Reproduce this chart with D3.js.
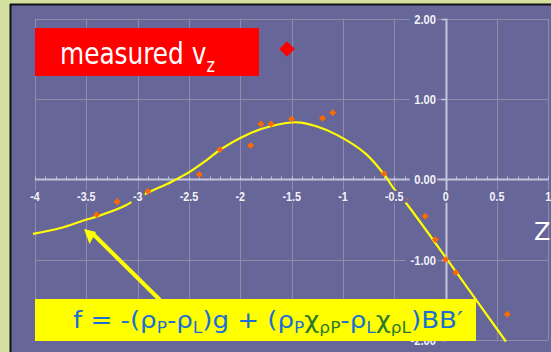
<!DOCTYPE html>
<html>
<head>
<meta charset="utf-8">
<script src="https://cdn.jsdelivr.net/npm/d3@7"></script>
<style>
  html, body { margin: 0; padding: 0; background: #d3e0a0; }
  svg { display: block; }
</style>
</head>
<body>
<div id="chart"></div>
<script>
// measured v_z points
const scatterX = [-3.4, -3.2, -2.9, -2.4, -2.2, -1.9, -1.8, -1.7, -1.5, -1.2, -1.1, -0.6, -0.4, -0.2, -0.1, 0.0, 0.1, 0.6];
const scatterY = [-0.44, -0.28, -0.15, 0.06, 0.37, 0.42, 0.69, 0.69, 0.75, 0.76, 0.83, 0.07, -0.25, -0.46, -0.75, -1.0, -1.16, -1.68];

// model curve f (traced)
const curveX = [-4.02, -3.76, -3.52, -3.4, -3.14, -2.945, -2.668, -2.49, -2.327, -2.2, -1.945, -1.705, -1.447, -1.26, -1.055, -0.78, -0.593, -0.508, -0.395, 0.1, 0.587];
const curveY = [-0.68, -0.61, -0.51, -0.465, -0.34, -0.195, -0.03, 0.095, 0.24, 0.365, 0.55, 0.66, 0.71, 0.66, 0.55, 0.32, 0.05, -0.11, -0.28, -1.15, -2.02];

const xTickValues = [-4, -3.5, -3, -2.5, -2, -1.5, -1, -0.5, 0, 0.5, 1];
const xTickLabels = ['-4', '-3.5', '-3', '-2.5', '-2', '-1.5', '-1', '-0.5', '0', '0.5', '1'];
const yTickValues = [2, 1, 0, -1, -2];
const yTickLabels = ['2.00', '1.00', '0.00', '-1.00', '-2.00'];

const W = 551, H = 352;
const bg = '#666699';
const gridCol = '#8d8dab';
const axisCol = '#c4c4dc';

const svg = d3.select('#chart').append('svg').attr('width', W).attr('height', H);

// frame
svg.append('rect').attr('x', 0).attr('y', 0).attr('width', W).attr('height', H).attr('fill', '#d3e0a0');
svg.append('rect').attr('x', 11).attr('y', 5).attr('width', W).attr('height', H).attr('fill', bg);
svg.append('line').attr('x1', 10.5).attr('x2', 10.5).attr('y1', 4).attr('y2', H).attr('stroke', '#111').attr('stroke-width', 2);
svg.append('line').attr('x1', 10).attr('x2', W).attr('y1', 4.5).attr('y2', 4.5).attr('stroke', '#111').attr('stroke-width', 2);

const x = d3.scaleLinear().domain([-4, 1]).range([35, 548.3]);
const y = d3.scaleLinear().domain([-2, 2]).range([339.9, 18.7]);

const g = svg.append('g');

// grid
g.selectAll('.vg').data(xTickValues).join('line')
  .attr('x1', d => Math.round(x(d)) + 0.5).attr('x2', d => Math.round(x(d)) + 0.5)
  .attr('y1', y(2)).attr('y2', y(-2))
  .attr('stroke', gridCol).attr('stroke-width', 1);
g.selectAll('.hg').data(yTickValues).join('line')
  .attr('x1', x(-4)).attr('x2', x(1))
  .attr('y1', d => Math.round(y(d)) + 0.5).attr('y2', d => Math.round(y(d)) + 0.5)
  .attr('stroke', gridCol).attr('stroke-width', 1);

// axes
const y0 = Math.round(y(0)) + 0.5;
const x0 = Math.round(x(0)) + 0.5;
g.append('line').attr('x1', x(-4)).attr('x2', x(1)).attr('y1', y0).attr('y2', y0)
  .attr('stroke', axisCol).attr('stroke-width', 2);
g.selectAll('.mt').data(d3.range(-40, 11).map(d => d / 10)).join('line')
  .attr('x1', d => Math.round(x(d)) + 0.5).attr('x2', d => Math.round(x(d)) + 0.5)
  .attr('y1', y0 - 3).attr('y2', y0)
  .attr('stroke', axisCol).attr('stroke-width', 1);
g.append('line').attr('x1', x0).attr('x2', x0).attr('y1', y(2)).attr('y2', y(-2))
  .attr('stroke', axisCol).attr('stroke-width', 2);
g.selectAll('.yt').data(yTickValues).join('line')
  .attr('x1', x0 - 5).attr('x2', x0)
  .attr('y1', d => Math.round(y(d)) + 0.5).attr('y2', d => Math.round(y(d)) + 0.5)
  .attr('stroke', axisCol).attr('stroke-width', 1.5);

// curve
const curveData = curveX.map((cx, i) => [cx, curveY[i]]);
g.append('path').datum(curveData)
  .attr('d', d3.line().x(d => x(d[0])).y(d => y(d[1])).curve(d3.curveCatmullRom))
  .attr('fill', 'none').attr('stroke', '#ffff00').attr('stroke-width', 2.2);

// points
const diamond = d3.symbol().type(d3.symbolDiamond2);
g.selectAll('.pt').data(scatterX).join('path')
  .attr('transform', (d, i) => `translate(${x(d)},${y(scatterY[i])})`)
  .attr('d', diamond.size(30)())
  .attr('fill', '#ff6a00');

// tick labels with knock-out backgrounds
const lblFont = '"Liberation Sans", Arial, sans-serif';
function labelWithBg(sel) {
  sel.each(function () {
    const b = this.getBBox();
    d3.select(this.parentNode).insert('rect', () => this)
      .attr('x', b.x - 1).attr('y', b.y + 1).attr('width', b.width + 2).attr('height', b.height - 2)
      .attr('fill', bg);
  });
}
const xl = g.selectAll('.xl').data(xTickValues).join('g');
xl.append('text')
  .attr('x', d => x(d)).attr('y', y0 + 22)
  .attr('text-anchor', 'middle').attr('font-family', lblFont).attr('font-weight', 'bold')
  .attr('font-size', '12.5px').attr('fill', '#f2f2f6')
  .attr('transform', d => `translate(${x(d)},0) scale(0.86,1) translate(${-x(d)},0)`)
  .text((d, i) => xTickLabels[i])
  .call(labelWithBg);

const yl = g.selectAll('.yl').data(yTickValues).join('g');
yl.append('text')
  .attr('x', 436).attr('y', d => y(d) + 5)
  .attr('text-anchor', 'end').attr('font-family', lblFont).attr('font-weight', 'bold')
  .attr('font-size', '13px').attr('fill', '#f2f2f6')
  .attr('transform', 'translate(436,0) scale(0.86,1) translate(-436,0)')
  .text((d, i) => yTickLabels[i])
  .call(labelWithBg);

// Z axis title
svg.append('text').attr('x', 534).attr('y', 240)
  .attr('font-family', '"DejaVu Sans", sans-serif').attr('font-size', '24px')
  .attr('fill', '#ffffff').text('Z');

// legend box
svg.append('rect').attr('x', 35).attr('y', 28).attr('width', 224).attr('height', 48).attr('fill', '#ff0000');
const leg = svg.append('text').attr('x', 60).attr('y', 64)
  .attr('font-family', '"DejaVu Sans", sans-serif').attr('font-size', '31px').attr('fill', '#ffffff')
  .attr('transform', 'translate(60,0) scale(0.8,1) translate(-60,0)');
leg.append('tspan').text('measured v');
leg.append('tspan').attr('font-size', '20px').attr('dy', 8).text('z');
svg.append('path').attr('transform', 'translate(287,49)')
  .attr('d', d3.symbol().type(d3.symbolDiamond2).size(150)())
  .attr('fill', '#ff0000');

// arrow
svg.append('line').attr('x1', 160).attr('y1', 300).attr('x2', 92).attr('y2', 233)
  .attr('stroke', '#ffff00').attr('stroke-width', 4);
svg.append('polygon').attr('points', '84,229 89.5,244 96,232').attr('fill', '#ffff00');

// formula box
svg.append('rect').attr('x', 35).attr('y', 299).attr('width', 441).attr('height', 42).attr('fill', '#ffff00');
const blue = '#1a6fd6', green = '#2a7a2a';
const ft = svg.append('text').attr('x', 73).attr('y', 328)
  .attr('font-family', '"DejaVu Sans", sans-serif').attr('font-size', '23px').attr('fill', blue);
const parts = [
  ['f = -(ρ', blue, 0], ['P', blue, 1], ['-ρ', blue, 0], ['L', blue, 1], [')g + (ρ', blue, 0], ['P', blue, 1],
  ['χ', green, 0], ['ρP', green, 1], ['-ρ', blue, 0], ['L', blue, 1], ['χ', green, 0], ['ρL', green, 1], [')BB′', blue, 0]
];
let prevSub = 0;
parts.forEach(p => {
  const t = ft.append('tspan').attr('fill', p[1]).text(p[0]);
  if (p[2]) t.attr('font-size', '15px');
  const dy = (p[2] ? 5 : 0) - (prevSub ? 5 : 0);
  if (dy) t.attr('dy', dy);
  prevSub = p[2];
});
const fw = ft.node().getComputedTextLength();
const sx = 390 / fw;
ft.attr('transform', `translate(73,0) scale(${sx},1) translate(-73,0)`);
</script>
</body>
</html>
